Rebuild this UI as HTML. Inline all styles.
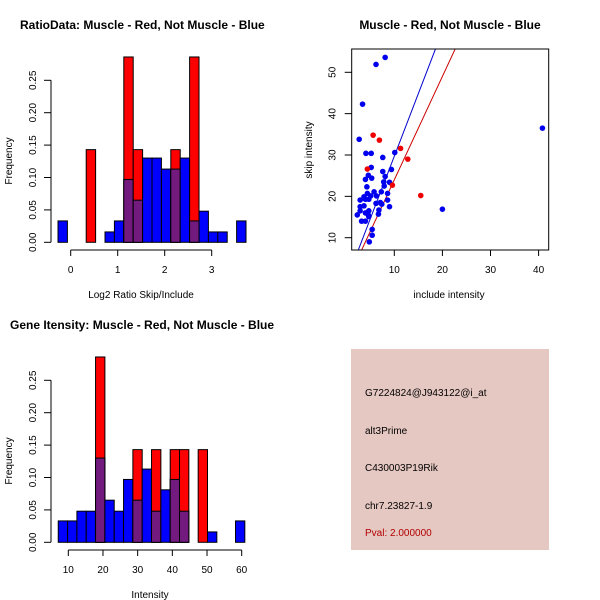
<!DOCTYPE html>
<html><head><meta charset="utf-8"><style>
body{margin:0;background:#fff}
svg{display:block;font-family:"Liberation Sans",sans-serif}
</style></head><body>
<svg id="s" width="600" height="600" xmlns="http://www.w3.org/2000/svg">
<rect width="600" height="600" fill="#fff"/>
<text x="20" y="29" font-size="12" font-weight="bold">RatioData: Muscle - Red, Not Muscle - Blue</text>
<text x="450" y="29" font-size="12" font-weight="bold" text-anchor="middle">Muscle - Red, Not Muscle - Blue</text>
<text x="10" y="329" font-size="12" font-weight="bold">Gene Itensity: Muscle - Red, Not Muscle - Blue</text>
<text x="141" y="298" font-size="10" text-anchor="middle">Log2 Ratio Skip/Include</text>
<text x="150" y="598" font-size="10" text-anchor="middle">Intensity</text>
<text x="449" y="298" font-size="10" text-anchor="middle">include intensity</text>
<text transform="translate(12,161) rotate(-90)" font-size="10" text-anchor="middle">Frequency</text>
<text transform="translate(12,461) rotate(-90)" font-size="10" text-anchor="middle">Frequency</text>
<text transform="translate(312,150) rotate(-90)" font-size="10" text-anchor="middle">skip intensity</text>
<g>
<rect x="351" y="349" width="198" height="201" fill="#e6c8c2"/>
<text x="365" y="396" font-size="10">G7224824@J943122@i_at</text>
<text x="365" y="434" font-size="10">alt3Prime</text>
<text x="365" y="471" font-size="10">C430003P19Rik</text>
<text x="365" y="509" font-size="10">chr7.23827-1.9</text>
<text x="365" y="536" font-size="10" fill="#b00000">Pval: 2.000000</text>
</g>
</svg>
<script>
// Ratio histogram data (bin width 0.2 starting at -0.27)
const ratioBlue=[0.033,0,0,0,0,0.016,0.033,0.097,0.065,0.13,0.13,0.113,0.113,0.13,0.033,0.048,0.016,0.016,0,0.033];
const ratioRed=[0,0,0,0.143,0,0,0,0.286,0.143,0,0,0,0.143,0,0.286,0,0,0,0,0];
const ratioStart=-0.27, ratioWidth=0.2;
const ratioXTicks=[0,1,2,3];
// Intensity histogram data (bin width 2.69 starting at 7.1)
const intBlue=[0.033,0.033,0.048,0.048,0.13,0.065,0.048,0.097,0.065,0.113,0.048,0.081,0.097,0.048,0,0,0.016,0,0,0.033];
const intRed=[0,0,0,0,0.286,0,0,0,0.143,0,0.143,0,0.143,0.143,0,0.143,0,0,0,0];
const intStart=7.1, intWidth=2.69;
const intXTicks=[10,20,30,40,50,60];
const freqTicks=[0,0.05,0.10,0.15,0.20,0.25];
const freqLabels=["0.00","0.05","0.10","0.15","0.20","0.25"];
// Scatter data
const blueX=[6.2,8.1,3.4,2.7,40.8,20,4.1,5.2,7.6,10.1,5.2,9.4,7.6,8.1,4.6,5.3,4.0,4.3,7.8,9.0,7.9,8.6,5.8,7.3,4.4,3.7,5.1,6.3,2.9,4.0,4.7,8.6,6.2,7.1,7.4,3.7,9.0,2.9,6.8,4.7,2.9,4.0,2.3,4.6,6.7,4.7,3.2,4.0,5.4,5.4,4.8];
const blueY=[51.9,53.6,42.3,33.8,36.5,16.9,30.4,30.4,29.4,30.6,27.0,26.5,26.0,24.8,25.1,24.4,24.1,22.3,23.5,23.4,22.5,20.7,21.1,21.1,20.7,19.9,20.1,20.1,19.1,19.3,19.3,19.1,18.3,18.5,18.1,17.7,17.5,17.5,16.7,16.5,16.5,16.0,15.5,15.5,15.7,15.1,14.0,14.0,12.0,10.6,9.0];
const redX=[5.6,6.9,4.4,11.3,12.8,9.6,15.5];
const redY=[34.8,33.6,26.6,31.6,29.0,22.7,20.2];
const blueLine=[-0.6,3.03]; // intercept, slope
const redLine=[-1.0,2.5];
const scatXTicks=[10,20,30,40];
const scatYTicks=[10,20,30,40,50];

const NS="http://www.w3.org/2000/svg";
const svg=document.getElementById('s');
function mk(tag,attrs,parent){const e=document.createElementNS(NS,tag);for(const k in attrs)e.setAttribute(k,attrs[k]);(parent||svg).appendChild(e);return e;}

function hist(name,blue,red,start,width,xs,y0,ppf,xTicks,axisY){
  const g=mk('g',{});
  
  
  const yv=v=>y0-v*ppf;
  for(let i=0;i<blue.length;i++){
    const x1=xs(start+i*width),x2=xs(start+(i+1)*width);
    const b=blue[i],r=red[i];
    if(b>0){const e=mk('rect',{x:x1,y:yv(b),width:x2-x1,height:y0-yv(b),fill:'#0000ff',stroke:'#000','stroke-width':1},g);
      
      }
    if(r>0){const e=mk('rect',{x:x1,y:yv(r),width:x2-x1,height:y0-yv(r),fill:'#ff0000',stroke:'#000','stroke-width':1},g);
      
      }
    if(b>0&&r>0){const m=Math.min(b,r);const e=mk('rect',{x:x1,y:yv(m),width:x2-x1,height:y0-yv(m),fill:'#731a7f',stroke:'#000','stroke-width':1},g);
      
      }
  }
  mk('line',{x1:51,x2:51,y1:yv(0),y2:yv(0.25),stroke:'#000'},g);
  freqTicks.forEach((t,i)=>{mk('line',{x1:44,x2:51,y1:yv(t),y2:yv(t),stroke:'#000'},g);
    const tx=mk('text',{transform:`translate(36,${yv(t)}) rotate(-90)`,'font-size':10,'text-anchor':'middle'},g);tx.textContent=freqLabels[i];});
  mk('line',{x1:xs(xTicks[0]),x2:xs(xTicks[xTicks.length-1]),y1:axisY,y2:axisY,stroke:'#000'},g);
  xTicks.forEach(t=>{mk('line',{x1:xs(t),x2:xs(t),y1:axisY,y2:axisY+6,stroke:'#000'},g);
    const tx=mk('text',{x:xs(t),y:axisY+23,'font-size':10,'text-anchor':'middle'},g);tx.textContent=t;});
}
hist('ratio-histogram',ratioBlue,ratioRed,ratioStart,ratioWidth,v=>70.7+v*47,242.3,648,ratioXTicks,250);
hist('intensity-histogram',intBlue,intRed,intStart,intWidth,v=>68.3+(v-10)*3.468,542.3,648,intXTicks,550);

const sx=v=>346.2+v*4.81, sy=v=>237.7-(v-10)*4.135;
const L=351.7,R=548.7,T=49,B=250;
const sg=mk('g',{});


mk('defs',{},sg).innerHTML='<clipPath id="c"><rect x="'+L+'" y="'+T+'" width="'+(R-L)+'" height="'+(B-T)+'"/></clipPath>';
function line(p,col,name){const xa=0,xb=45;const e=mk('line',{x1:sx(xa),y1:sy(p[0]+p[1]*xa),x2:sx(xb),y2:sy(p[0]+p[1]*xb),stroke:col,'stroke-width':1,'clip-path':'url(#c)'},sg);
  
  }
line(blueLine,'#0000cc','blue-fit-line');
line(redLine,'#cc0000','red-fit-line');
blueX.forEach((x,i)=>{const e=mk('circle',{cx:sx(x),cy:sy(blueY[i]),r:2.8,fill:'#0000ee'},sg);
  
  });
redX.forEach((x,i)=>{const e=mk('circle',{cx:sx(x),cy:sy(redY[i]),r:2.8,fill:'#ee0000'},sg);
  
  });
mk('rect',{x:L,y:T,width:R-L,height:B-T,fill:'none',stroke:'#000'},sg);
scatXTicks.forEach(t=>{mk('line',{x1:sx(t),x2:sx(t),y1:B,y2:B+6,stroke:'#000'},sg);
  const tx=mk('text',{x:sx(t),y:B+23,'font-size':10,'text-anchor':'middle'},sg);tx.textContent=t;});
scatYTicks.forEach(t=>{mk('line',{x1:L-7,x2:L,y1:sy(t),y2:sy(t),stroke:'#000'},sg);
  const tx=mk('text',{transform:`translate(${L-16},${sy(t)}) rotate(-90)`,'font-size':10,'text-anchor':'middle'},sg);tx.textContent=t;});
</script>
</body></html>
